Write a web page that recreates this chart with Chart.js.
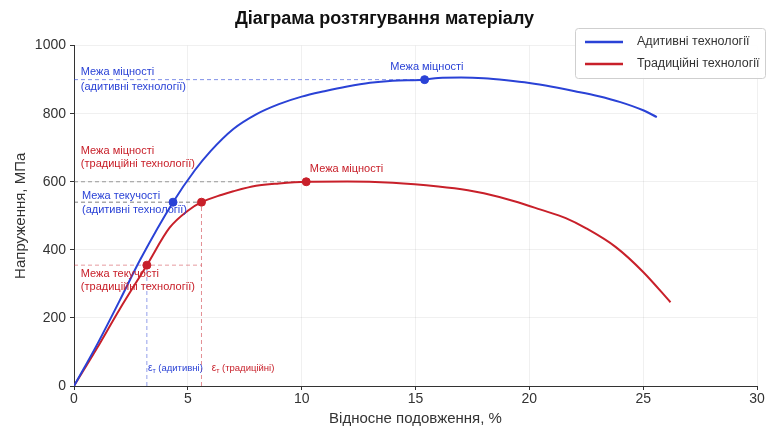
<!DOCTYPE html>
<html>
<head>
<meta charset="utf-8">
<script src="https://cdn.jsdelivr.net/npm/chart.js@4.4.0/dist/chart.umd.min.js"></script>
<style>
  html, body { margin: 0; padding: 0; background: #fff; }
  #wrap { width: 767px; height: 428px; }
</style>
</head>
<body>
<div id="wrap"><canvas id="tensileChart"></canvas></div>
<script>
// strain (%) / stress (MPa)
const strainAdd = [0, 1, 2, 2.9, 4.35, 5.3, 6, 7, 8, 9, 10, 11, 12, 13, 14, 15.4, 16, 17, 18, 19, 20, 21, 22, 23, 24, 25, 25.6]
const stressAdd = [0, 120, 250, 370, 540, 633, 690, 755, 798, 828, 850, 866, 880, 891, 897, 900, 905, 906, 904, 898, 890, 879, 866, 852, 834, 810, 790]
const strainTrad = [0, 1, 2, 3.2, 4.2, 5, 5.6, 6.5, 7, 8, 9, 10.2, 12, 14, 16, 17.3, 18, 19.5, 20.5, 21.6, 22.5, 23.8, 25, 26.2]
const stressTrad = [0, 110, 225, 355, 465, 515, 540, 562, 572, 588, 595, 600, 601, 597, 586, 575, 566, 540, 518, 493, 463, 408, 335, 246]

// key points
const yieldAdd = [4.35, 540]
const ultAdd = [15.4, 900]
const yieldTrad = [3.2, 355]
const yieldTrad2 = [5.6, 540]
const ultTrad = [10.2, 600]

const xTicks = [0, 5, 10, 15, 20, 25, 30]
const yTicks = [0, 200, 400, 600, 800, 1000]

const BLUE = '#2a42d6'
const RED = '#c8202a'
const FONT = "'Liberation Sans', Arial, sans-serif"

const pts = (xs, ys) => xs.map((x, i) => ({x: x, y: ys[i]}))
const dashed = (data, color) => ({
    data: data,
    showLine: true,
    borderColor: color,
    borderWidth: 1,
    borderDash: [4, 3],
    pointRadius: 0,
    order: 5
})
const marker = (p, color) => ({
    data: [{x: p[0], y: p[1]}],
    pointRadius: 4,
    pointBackgroundColor: color,
    pointBorderColor: color,
    showLine: false,
    order: 0
})

// annotation texts [x, y, text, color, align]
const notes = [
    [0.3, 922, 'Межа міцності', BLUE, 'left'],
    [0.3, 878, '(адитивні технології)', BLUE, 'left'],
    [15.5, 936, 'Межа міцності', BLUE, 'center'],
    [0.3, 690, 'Межа міцності', RED, 'left'],
    [0.3, 652, '(традиційні технології)', RED, 'left'],
    [10.36, 637, 'Межа міцності', RED, 'left'],
    [0.35, 558, 'Межа текучості', BLUE, 'left'],
    [0.35, 517, '(адитивні технології)', BLUE, 'left'],
    [0.3, 329, 'Межа текучості', RED, 'left'],
    [0.3, 291, '(традиційні технології)', RED, 'left']
]
const epsNotes = [
    [3.25, 53, '(адитивні)', BLUE],
    [6.05, 53, '(традиційні)', RED]
]

const annotations = {
    id: 'annotations',
    afterDatasetsDraw(chart) {
        const c = chart.ctx
        const xs = chart.scales.x, ys = chart.scales.y
        c.save()
        c.textBaseline = 'middle'
        c.font = '11px ' + FONT
        notes.forEach(n => {
            c.fillStyle = n[3]
            c.textAlign = n[4]
            c.fillText(n[2], xs.getPixelForValue(n[0]), ys.getPixelForValue(n[1]))
        })
        c.textAlign = 'left'
        epsNotes.forEach(n => {
            let px = xs.getPixelForValue(n[0]), py = ys.getPixelForValue(n[1])
            c.fillStyle = n[3]
            c.font = '10px ' + FONT
            c.fillText('ε', px, py)
            let w = c.measureText('ε').width
            c.font = '7px ' + FONT
            c.fillText('т', px + w, py + 3)
            let w2 = c.measureText('т').width
            c.font = '9.5px ' + FONT
            c.fillText(' ' + n[2], px + w + w2, py)
        })

        // legend box
        c.fillStyle = 'rgba(255,255,255,0.9)'
        c.strokeStyle = '#cfcfcf'
        c.lineWidth = 1
        c.beginPath()
        c.roundRect(575.5, 28.5, 190, 50, 3)
        c.fill()
        c.stroke()
        const items = [['Адитивні технології', BLUE, 42], ['Традиційні технології', RED, 64]]
        c.font = '12.5px ' + FONT
        items.forEach(it => {
            c.strokeStyle = it[1]
            c.lineWidth = 2.5
            c.beginPath()
            c.moveTo(585, it[2])
            c.lineTo(623, it[2])
            c.stroke()
            c.fillStyle = '#333'
            c.fillText(it[0], 637, it[2])
        })
        c.restore()
    }
}

const chart = new Chart(document.getElementById('tensileChart'), {
    type: 'scatter',
    data: {
        datasets: [
            {
                label: 'Адитивні технології',
                data: pts(strainAdd, stressAdd),
                showLine: true,
                borderColor: BLUE,
                borderWidth: 2,
                pointRadius: 0,
                cubicInterpolationMode: 'monotone',
                order: 1
            },
            {
                label: 'Традиційні технології',
                data: pts(strainTrad, stressTrad),
                showLine: true,
                borderColor: RED,
                borderWidth: 2,
                pointRadius: 0,
                cubicInterpolationMode: 'monotone',
                order: 1
            },
            // reference lines
            dashed([{x: 0, y: ultAdd[1]}, {x: ultAdd[0], y: ultAdd[1]}], 'rgba(42,66,214,0.6)'),
            dashed([{x: 0, y: ultTrad[1]}, {x: ultTrad[0], y: ultTrad[1]}], 'rgba(90,90,90,0.6)'),
            dashed([{x: 0, y: yieldAdd[1]}, {x: yieldTrad2[0], y: yieldTrad2[1]}], 'rgba(60,60,60,0.65)'),
            dashed([{x: 0, y: yieldTrad[1]}, {x: yieldTrad2[0], y: yieldTrad[1]}], 'rgba(200,32,42,0.45)'),
            dashed([{x: yieldTrad[0], y: 0}, {x: yieldTrad[0], y: yieldTrad[1]}], 'rgba(42,66,214,0.5)'),
            dashed([{x: yieldTrad2[0], y: 0}, {x: yieldTrad2[0], y: yieldTrad2[1]}], 'rgba(200,32,42,0.5)'),
            marker(yieldAdd, BLUE),
            marker(ultAdd, BLUE),
            marker(yieldTrad, RED),
            marker(yieldTrad2, RED),
            marker(ultTrad, RED)
        ]
    },
    options: {
        responsive: true,
        maintainAspectRatio: false,
        animation: false,
        layout: { padding: { left: 12, right: 10, top: 0, bottom: 0 } },
        plugins: {
            legend: { display: false },
            tooltip: { enabled: false },
            title: {
                display: true,
                text: 'Діаграма розтягування матеріалу',
                color: '#111',
                font: { family: FONT, size: 18, weight: 'bold' },
                padding: { top: 8, bottom: 16 }
            }
        },
        scales: {
            x: {
                type: 'linear',
                min: 0,
                max: 30,
                afterBuildTicks: s => { s.ticks = xTicks.map(v => ({value: v})) },
                afterFit: s => { s.height = 42 },
                grid: { color: 'rgba(0,0,0,0.06)', tickColor: '#333', tickLength: 4 },
                border: { color: '#333', width: 1 },
                ticks: { color: '#333', font: { family: FONT, size: 14 }, padding: 1 },
                title: {
                    display: true,
                    text: 'Відносне подовження, %',
                    color: '#333',
                    font: { family: FONT, size: 15 },
                    padding: { top: 3, bottom: 0 }
                }
            },
            y: {
                min: 0,
                max: 1000,
                afterBuildTicks: s => { s.ticks = yTicks.map(v => ({value: v})) },
                afterFit: s => { s.width = 62 },
                grid: { color: 'rgba(0,0,0,0.06)', tickColor: '#333', tickLength: 4 },
                border: { color: '#333', width: 1 },
                ticks: { color: '#333', font: { family: FONT, size: 14 }, padding: 4, callback: v => v },
                title: {
                    display: true,
                    text: 'Напруження, МПа',
                    color: '#333',
                    font: { family: FONT, size: 15 },
                    padding: { top: 0, bottom: 4 }
                }
            }
        }
    },
    plugins: [annotations]
});
</script>
</body>
</html>
